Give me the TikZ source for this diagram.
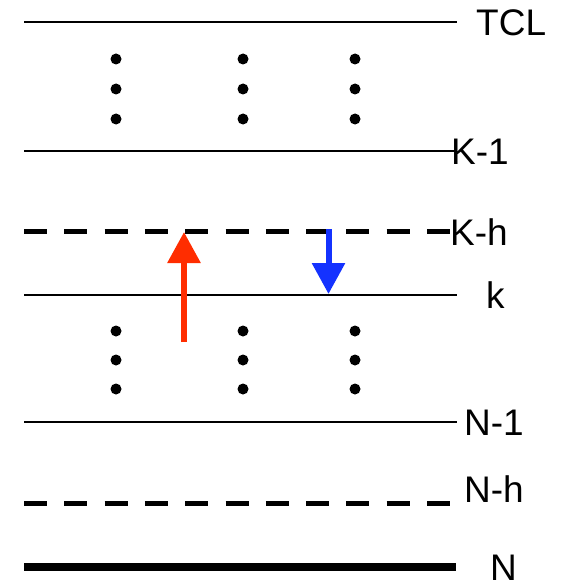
\documentclass[tikz,border=0pt]{standalone}
\usepackage{fontspec}
\setmainfont{Liberation Sans}
\usetikzlibrary{arrows.meta}
\definecolor{arrred}{RGB}{255,45,0}
\definecolor{arrblue}{RGB}{20,50,255}
\begin{document}
\begin{tikzpicture}[x=1pt,y=-1pt,
  thinline/.style={line width=1.8pt},
  dashline/.style={line width=5pt, dash pattern=on 23pt off 17.3pt},
  thickline/.style={line width=8.5pt},
  lbl/.style={anchor=base west, inner sep=0pt, font=\fontsize{37}{44}\selectfont},
  dotnode/.style={circle, fill=black, minimum size=11pt, inner sep=0pt},
  redarrow/.style={draw=arrred, line width=6pt, -{Triangle[width=32pt,length=31pt]}},
  bluearrow/.style={draw=arrblue, line width=6pt, -{Triangle[width=32pt,length=31pt]}},
]
\useasboundingbox (0,0) rectangle (560,583);
% level lines
\coordinate (tclL) at (24,22);  \coordinate (tclR) at (457,22);
\coordinate (k1L) at (24,151);  \coordinate (k1R) at (455,151);
\coordinate (khL) at (24,231.5);  \coordinate (khR) at (451,231.5);
\coordinate (kL) at (24,295);   \coordinate (kR) at (457,295);
\coordinate (n1L) at (24,422);  \coordinate (n1R) at (457,422);
\coordinate (nhL) at (24,503);  \coordinate (nhR) at (451,503);
\coordinate (nL) at (24,567);   \coordinate (nR) at (456,567);
\draw[thinline] (tclL) -- (tclR);
\draw[thinline] (k1L) -- (k1R);
\draw[dashline] (khL) -- (khR);
\draw[thinline] (kL) -- (kR);
\draw[thinline] (n1L) -- (n1R);
\draw[dashline] (nhL) -- (nhR);
\draw[thickline] (nL) -- (nR);
% labels
\node[lbl] (tcl) at (476,35.5) {TCL};
\node[lbl] (km1) at (451,164) {K-1};
\node[lbl] (kmh) at (450,245) {K-h};
\node[lbl] (kk) at (486,308) {k};
\node[lbl] (nm1) at (464,435) {N-1};
\node[lbl] (nmh) at (464,502) {N-h};
\node[lbl] (nn) at (490,580) {N};
% dots
\foreach \x/\c in {116/a,243/b,355/c}{
  \foreach \y/\r in {59/1,89/2,119/3}{
    \node[dotnode] (u\c\r) at (\x,\y) {};
  }
  \foreach \y/\r in {331/1,360/2,389/3}{
    \node[dotnode] (l\c\r) at (\x,\y) {};
  }
}
% arrows
\coordinate (rs) at (184,342); \coordinate (re) at (184,232);
\coordinate (bs) at (328.5,229); \coordinate (be) at (328.5,294);
\draw[redarrow] (rs) -- (re);
\draw[bluearrow] (bs) -- (be);
\end{tikzpicture}
\end{document}
